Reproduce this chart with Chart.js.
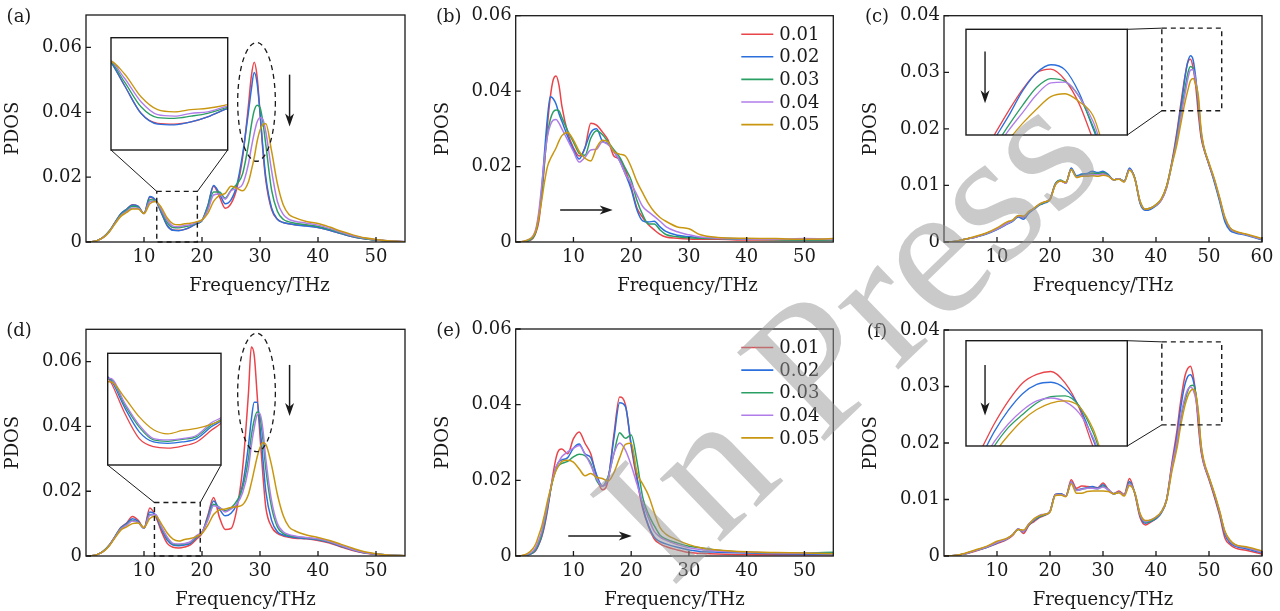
<!DOCTYPE html>
<html>
<head>
<meta charset="utf-8">
<script src="https://cdn.jsdelivr.net/npm/chart.js@4.4.1/dist/chart.umd.min.js"></script>
<style>
  html, body { margin: 0; padding: 0; background: #fff; }
  #fig { position: relative; width: 1280px; height: 611px; overflow: hidden; background: #fff; }
  #fig canvas { position: absolute; left: 0; top: 0; }
</style>
</head>
<body>
<div id="fig"></div>
<script>
// ---- data (PDOS in units of 1e-3) ----
const concentrations = ['0.01', '0.02', '0.03', '0.04', '0.05'];

const freqAD = [0,1,2,3,4,5,6,7,8,9,10,11,12,13,14,15,16,17,18,19,20,21,22,23,24,25,26,27,28,28.5,29,29.5,30,30.5,31,32,33,34,35,36,38,40,42,44,46,48,50,52,55];
const freqBE = [0,1,2,3,3.5,4,4.5,5,5.5,6,6.5,7,7.5,8,9,10,11,12,13,14,15,16,17,18,19,20,21,22,23,24,25,26,28,30,32,35,40,45,50,55];
const freqCF = [0,2,4,6,8,10,12,13,14,15,16,17,18,19,20,21,22,23,24,25,26,27,28,29,30,31,32,33,34,35,36,37,38,39,40,41,42,43,44,44.5,45,45.5,46,46.5,47,47.5,48,48.5,49,50,51,52,53,54,55,57,60];

// (a)
const a01 = [0,0.1,0.5,1.5,3.3,6.0,8.6,10.1,11.5,11.0, 8.8,13.8,12.8,9.0,5.1,3.7,3.6,3.9,4.6,5.6, 6.6,11.0,17.2,14.0,10.4,11.8,16.5,26,42, 51,55.4,51,40,28,19, 10,7,6.0,5.6,5.3, 5.0,4.5,3.6,2.6,1.6,1.0,0.6,0.3,0.1];
const a02 = [0,0.1,0.5,1.5,3.3,6.0,8.7,10.1,11.4,11.0, 8.8,14.0,12.8,9.0,5.1,3.6,3.5,3.9,4.6,5.6, 6.6,11.2,17.4,15.0,11.8,13.0,17.5,27,40, 47,52.3,49,40,29,20, 10.5,7,6.0,5.6,5.3, 4.9,4.5,3.6,2.6,1.6,1.0,0.6,0.3,0.1];
const a03 = [0,0.1,0.5,1.5,3.3,5.9,8.4,9.8,11.0,10.7, 8.8,13.0,12.7,9.5,6.0,4.5,4.4,4.7,5.1,5.8, 6.6,10.5,15.4,15.4,13.5,16.0,17.8,21,30, 36,40.5,42.2,41.5,37,30, 16,9.5,7.0,6.2,5.8, 5.3,4.8,3.9,2.8,1.8,1.1,0.6,0.3,0.1];
const a04 = [0,0.1,0.5,1.4,3.1,5.7,8.1,9.4,10.5,10.4, 8.8,12.4,12.6,10.0,6.7,4.9,4.7,5.1,5.3,6.0, 6.7,9.8,14.5,14.8,13.2,15.8,16.5,17.8,24, 29,33.5,37,38.3,37.8,34, 22,12.5,8.5,7.0,6.4, 5.8,5.2,4.2,3.0,1.9,1.2,0.7,0.4,0.1];
const a05 = [0,0.1,0.5,1.4,3.1,5.6,7.9,9.1,10.2,10.2, 8.8,11.8,12.5,10.6,7.4,5.6,5.3,5.6,5.8,6.2, 6.8,8.8,12.5,14.4,15.0,17.2,16.6,15.8,18.5, 22,26,31,34.5,36.2,36.5, 28,18,11.5,8.5,7.5, 6.3,5.7,4.6,3.3,2.2,1.3,0.8,0.4,0.1];

// (d)
const d01 = [0,0.1,0.5,1.5,3.3,6.0,8.8,10.2,12.2,11.0, 8.6,14.8,12.3,7.6,3.9,2.7,2.5,2.8,3.4,5.1, 7.0,12.5,18.1,12.0,8.2,8.5,14.5,27,50, 64.5,62,50,37,25,15, 9,7,6.2,5.8,5.5, 5.3,4.8,4.0,2.8,1.7,0.9,0.5,0.2,0.1];
const d02 = [0,0.1,0.5,1.5,3.3,6.0,8.7,10.0,11.5,10.7, 8.6,13.6,12.6,8.4,4.9,3.4,3.2,3.4,3.9,5.6, 7.2,12.0,17.0,14.5,12.4,13.2,16,22,34, 42,47.5,47.5,40,30,20, 11,7.5,6.5,6.0,5.7, 5.4,5.0,4.2,3.0,1.9,1.0,0.6,0.3,0.1];
const d03 = [0,0.1,0.5,1.5,3.3,5.9,8.5,9.7,11.0,10.4, 8.6,12.8,12.7,8.8,5.6,3.7,3.5,3.8,4.2,5.9, 7.3,11.5,16.0,15.0,14.0,14.8,17,21,30, 37,42,44.5,43,36,27, 15,9,7,6.3,6.0, 5.6,5.2,4.4,3.1,2.0,1.1,0.6,0.3,0.1];
const d04 = [0,0.1,0.5,1.4,3.2,5.8,8.3,9.5,10.8,10.3, 8.6,12.6,12.8,9.1,5.9,3.9,3.7,3.9,4.4,6.2, 7.5,11.0,15.5,15.0,13.6,14.5,16,19.5,27, 34,39.5,43.5,44,39,30, 17,10,7.5,6.6,6.2, 5.7,5.3,4.5,3.2,2.0,1.1,0.6,0.3,0.1];
const d05 = [0,0.1,0.5,1.4,3.1,5.6,8.0,9.0,10.0,10.2, 8.8,11.6,12.3,9.9,7.1,5.2,4.6,5.1,5.4,6.0, 7.0,9.5,12.8,14.2,14.5,15.0,15.2,15.8,19, 22.5,26.5,30.5,33.5,35,34.5, 28,19,12.5,9.0,7.8, 6.5,5.7,4.8,3.6,2.4,1.3,0.7,0.3,0.1];

// (b)
const b01 = [0,0,0.2,1.0, 2.5,5.5,12,21,31,38.5,43,44,41.5,36, 29,25,22.8,25,31.5,31,29.2,27,22.8,22,19,14.5,9,6.5,4.6,3.2,2.0,1.3, 1.0,0.8,0.7,0.7,0.5,0.5,0.5,0.5];
const b02 = [0,0,0.3,1.3, 3,7,14,24,33,38.5,38,36.5,34,32, 28,24.5,22,25,29,30,26.8,26,24,21.5,18,14,8.5,5.6,5.3,5.5,4.0,2.8, 1.8,1.4,1.1,1.0,0.8,0.7,0.6,0.6];
const b03 = [0,0,0.3,1.2, 2.8,6.5,13,21.5,28.5,32.5,34.5,35,34.8,33, 29.5,26.5,23.5,23,27.5,29.5,28.5,26.5,24.5,22.5,19.5,16.4,11,7.2,4.8,4.8,3.2,2.0, 1.4,1.1,1.0,0.9,0.7,0.6,0.5,0.6];
const b04 = [0,0.1,0.5,1.6, 3.5,8,15,22.5,28,31,32.3,32.5,31.5,30, 27,24,21.2,22.5,24.4,24.6,26.5,25.8,24,21.5,18,15.5,12.5,9.4,8.0,6.8,5.5,4.1, 2.7,1.9,1.3,1.0,0.8,0.7,0.9,0.7];
const b05 = [0,0.1,0.5,1.5, 3,6.5,11,16,20,22,23.5,25,26.8,28.2, 29,27,24,22.2,21.5,25,27,26.5,24,23.3,22.8,19.9,16,13,10.2,8.0,6.5,5.5, 4.0,3.5,1.9,1.2,1.0,0.9,0.7,0.9];

// (e)
const e01 = [0,0,0.2,0.8, 1.5,3,5,8,12,17,22,26,28,28.3, 27,31,32.8,29.8,27,21,17.5,20,32,42,40,29,20,12.5,7.8,4.5,3.2,2.5, 1.6,0.9,0.7,0.5,0.4,0.3,0.3,0.3];
const e02 = [0,0,0.2,0.9, 1.7,3.2,5.3,8.5,12.5,17,21,23.5,25,25.4, 26,28.5,29.6,27,26,21.5,18.5,20.5,31,40.5,39.5,29.5,21,13,8,5,3.8,3.2, 2.3,1.6,1.2,1.0,0.8,0.6,0.5,0.4];
const e03 = [0,0,0.3,1.0, 1.9,3.5,5.7,9,13,17.2,20.5,22.8,24,24.5, 25,26.2,26.9,26.5,24.5,20,18.5,21,27,32.6,31.1,32,25,15.5,11,8,5.5,4.5, 3.4,2.6,2.2,1.5,1.0,0.8,0.8,1.0];
const e04 = [0,0.1,0.4,1.3, 2.4,4.2,6.5,9.8,13.5,17.5,21,23.5,25,26.3, 27.5,28.5,29.2,27,24,20.5,18.5,20.5,27,29.9,28,24,19,14,10,6.5,5,4.2, 3.0,2.2,1.7,1.3,1.0,0.8,0.7,0.6];
const e05 = [0,0.1,0.6,2.0, 3.3,5.5,7.8,11,14.5,17.5,20.5,22.7,24,25, 25.3,24.8,23,21.2,21.8,20.8,20.5,19.8,22,26,29.5,29.8,22,19,16,11.5,7.5,5.8, 4.2,3.0,2.2,1.6,1.1,0.9,0.8,0.6];

// (c)
const c01 = [0,0.1,0.5,0.9,1.5,2.3, 3.3,3.8,4.6,4.3,5.3,5.9,6.6,7.0,7.6,10.2, 10.8,10.5,12.9,11.6,11.8,11.9,12.1,12.1,12.2,11.8, 11.0,11.2,10.7,12.9,11.3,7.0,5.7,5.9,6.5,7.5, 9.8,14.2, 19.8,23.2,26.5,29.5,31.8,32.3,30.8,27.5,22.5,18.5, 16.5,13.6,10.8,7.5,4.0,2.3,1.8,1.3,0.5];
const c02 = [0,0.1,0.5,0.9,1.4,2.2, 3.2,3.7,4.4,4.0,5.1,5.8,6.5,6.9,7.5,10.3, 10.9,10.4,13.1,11.7,12.0,12.1,12.5,12.3,12.5,11.9, 11.0,11.2,10.7,13.1,11.2,6.8,5.6,5.8,6.4,7.4, 9.6,13.8, 19.3,22.6,25.8,29.3,31.8,32.9,32.2,29,24,19, 16.7,13.7,10.6,7.2,3.6,2.0,1.6,1.2,0.4];
const c03 = [0,0.1,0.5,0.9,1.5,2.3, 3.3,3.8,4.6,4.4,5.3,5.9,6.6,7.0,7.6,10.2, 10.9,10.5,12.8,11.6,11.8,11.9,12.2,12.1,12.3,11.8, 11.0,11.2,10.8,12.8,11.3,7.1,5.8,6.0,6.6,7.6, 9.9,14.0, 18.6,21.5,24.5,27.3,29.8,31.0,30.6,28.5,24.3,19.3, 16.8,13.8,11.0,7.6,4.1,2.4,1.8,1.3,0.5];
const c04 = [0,0.1,0.5,0.9,1.5,2.3, 3.3,3.8,4.6,4.4,5.3,5.9,6.7,7.1,7.6,10.1, 10.8,10.4,12.8,11.5,11.7,11.8,11.9,11.9,12.0,11.7, 11.0,11.2,10.7,12.8,11.2,7.1,5.8,6.0,6.5,7.4, 9.6,13.8, 18.2,21.0,23.8,26.3,28.8,30.4,30.5,28.5,25,19.5, 16.8,13.8,11.0,7.7,4.2,2.4,1.8,1.3,0.5];
const c05 = [0,0.1,0.5,1.0,1.6,2.5, 3.6,3.9,4.7,4.6,5.4,6.0,6.7,7.1,7.5,10.1, 10.8,10.5,12.8,11.4,11.6,11.6,11.7,11.6,11.8,11.6, 11.0,11.1,10.6,12.7,11.2,7.2,5.8,6.0,6.6,7.6, 9.8,13.6, 17.5,20,22.5,24.8,26.8,28.5,28.9,27.8,25.8,20, 17,14.0,11.2,7.9,4.4,2.5,1.9,1.4,0.6];

// (f)
const f01 = [0,0.1,0.4,0.9,1.5,2.2, 3.0,3.7,4.8,4.0,5.4,6.1,6.8,7.2,7.9,10.9, 11.0,10.6,13.5,12.0,12.4,12.3,12.2,12.1,12.9,11.8, 11.0,11.5,10.9,13.7,11.0,6.8,5.5,6.0,6.6,7.7, 10.0,16.5, 22.5,26.3,29.5,32,33.2,33.6,32,28.5,23,18.5, 16.3,13.5,10.5,7.2,3.2,2.0,1.4,1.0,0.35];
const f02 = [0,0.1,0.4,1.0,1.5,2.3, 3.1,3.8,4.8,4.3,5.5,6.3,6.9,7.3,7.9,10.9, 11.0,10.6,13.1,11.7,11.9,12.1,12.3,12.0,12.6,11.7, 11.0,11.3,10.8,13.2,11.1,7.1,5.8,6.1,6.6,7.6, 9.9,16.0, 21.5,25.2,28.2,30.5,31.8,32.1,31.2,28.7,24,19, 16.5,13.7,10.8,7.5,3.8,2.3,1.7,1.3,0.55];
const f03 = [0,0.1,0.4,1.0,1.6,2.4, 3.1,3.8,4.7,4.4,5.6,6.4,7.0,7.3,7.9,10.8, 10.9,10.6,13.0,11.6,11.8,12.0,12.0,11.9,12.4,11.7, 11.0,11.3,10.8,12.9,11.2,7.3,6.0,6.2,6.8,7.8, 10.0,15.5, 20,23.2,25.8,27.6,29.2,30.1,30.2,28.8,25,19.5, 16.7,13.9,11.0,7.8,4.2,2.6,1.9,1.5,0.7];
const f04 = [0,0.1,0.4,1.0,1.6,2.4, 3.1,3.8,4.8,4.4,5.7,6.5,7.2,7.4,7.9,10.8, 10.9,10.6,13.0,11.6,11.8,12.0,12.0,11.9,12.2,11.7, 11.0,11.3,10.8,12.8,11.2,7.3,6.1,6.4,6.9,7.8, 10.0,15.8, 20.5,23.8,26.3,28.2,29.5,29.9,29.4,27.8,24.3,19.2, 16.5,13.8,11.0,7.8,4.2,2.6,1.9,1.5,0.7];
const f05 = [0,0.1,0.5,1.1,1.7,2.6, 3.2,3.8,4.7,4.6,5.6,6.6,7.1,7.4,7.8,10.7, 10.8,10.5,12.8,11.1,11.1,11.4,11.5,11.5,11.5,11.4, 11.0,11.2,10.6,12.5,11.2,7.5,6.3,6.4,6.9,7.8, 9.8,15, 19.3,22.2,24.7,26.8,28.3,29.2,29.5,28.7,25.5,19.8, 17,14.0,11.2,8.0,4.4,2.8,2.0,1.65,0.9];

const ticksX55 = [10, 20, 30, 40, 50];
const ticksX60 = [10, 20, 30, 40, 50, 60];
const ticksY06 = [0, 0.02, 0.04, 0.06];
const ticksY04 = [0, 0.01, 0.02, 0.03, 0.04];

// ---- look ----
const W = 1280, H = 611;
const FONT = 'DejaVu Serif';
const INK = '#1a1a1a';
const COLORS = ['#e9444a', '#2b6fdc', '#2a9f64', '#b07de8', '#c9960f'];

const panels = [
  { tag: '(a)', area: { l: 86, t: 15, r: 405, b: 242 }, titleShift: 14, freq: freqAD, series: [a01, a02, a03, a04, a05],
    xMax: 55, yMax: 0.07, xTicks: ticksX55, yTicks: ticksY06,
    inset: { box: { x0: 111, y0: 37.7, x1: 227.7, y1: 150 }, range: [12.2, 19.2, 0, 0.0156], rect: [12.2, 19.2, 0, 0.0156], link: 'below' },
    ellipse: [29.4, 0.0432, 3.25, 0.0183], arrow: [35.1, 0.0516, 35.1, 0.0356] },
  { tag: '(b)', area: { l: 515.7, t: 15.7, r: 833.3, b: 242 }, titleShift: 13, freq: freqBE, series: [b01, b02, b03, b04, b05],
    xMax: 55, yMax: 0.06, xTicks: ticksX55, yTicks: ticksY06, legend: true,
    arrow: [7.7, 0.0085, 16.8, 0.0085] },
  { tag: '(c)', area: { l: 944, t: 15.7, r: 1262, b: 242 }, titleShift: 0, freq: freqCF, series: [c01, c02, c03, c04, c05],
    xMax: 60, yMax: 0.04, xTicks: ticksX60, yTicks: ticksY04,
    inset: { box: { x0: 966, y0: 29.3, x1: 1127.3, y1: 135 }, range: [43.5, 49.2, 0.0232, 0.0378], rect: [41.1, 52.4, 0.0232, 0.0378], link: 'side', arrow: [0.118, 0.21, 0.118, 0.70] } },
  { tag: '(d)', area: { l: 86, t: 329.3, r: 405, b: 556 }, titleShift: 0, freq: freqAD, series: [d01, d02, d03, d04, d05],
    xMax: 55, yMax: 0.07, xTicks: ticksX55, yTicks: ticksY06,
    inset: { box: { x0: 107.7, y0: 353.3, x1: 221, y1: 465 }, range: [11.8, 19.7, 0, 0.0165], rect: [11.8, 19.7, 0, 0.0165], link: 'below' },
    ellipse: [29.4, 0.0505, 3.25, 0.0183], arrow: [35.1, 0.059, 35.1, 0.0432] },
  { tag: '(e)', area: { l: 515.7, t: 329, r: 833.3, b: 556 }, titleShift: 0, freq: freqBE, series: [e01, e02, e03, e04, e05],
    xMax: 55, yMax: 0.06, xTicks: ticksX55, yTicks: ticksY06, legend: true,
    arrow: [9.1, 0.0053, 20.1, 0.0053] },
  { tag: '(f)', area: { l: 944, t: 330, r: 1262, b: 556 }, titleShift: 0, freq: freqCF, series: [f01, f02, f03, f04, f05],
    xMax: 60, yMax: 0.04, xTicks: ticksX60, yTicks: ticksY04,
    inset: { box: { x0: 966, y0: 340.7, x1: 1127.3, y1: 446 }, range: [43.5, 49.2, 0.0232, 0.0379], rect: [41.1, 52.4, 0.0232, 0.0379], link: 'side', arrow: [0.118, 0.23, 0.118, 0.71] } }
];

const fig = document.getElementById('fig');
function addCanvas() {
  const cv = document.createElement('canvas');
  cv.width = W; cv.height = H;
  fig.appendChild(cv);
  return cv;
}

function buildDatasets(p, width) {
  return p.series.map((s, i) => ({
    label: concentrations[i],
    data: p.freq.map((f, k) => ({ x: f, y: s[k] / 1000 })),
    borderColor: COLORS[i],
    borderWidth: width,
    pointRadius: 0,
    fill: false,
    cubicInterpolationMode: 'monotone',
    order: 5 - i
  }));
}

function drawArrow(ctx, x1, y1, x2, y2) {
  const ang = Math.atan2(y2 - y1, x2 - x1), L = 13, w = 4.5;
  ctx.beginPath();
  ctx.moveTo(x1, y1);
  ctx.lineTo(x2 - Math.cos(ang) * L * 0.7, y2 - Math.sin(ang) * L * 0.7);
  ctx.stroke();
  ctx.save();
  ctx.translate(x2, y2);
  ctx.rotate(ang);
  ctx.beginPath();
  ctx.moveTo(0, 0);
  ctx.lineTo(-L, -w);
  ctx.lineTo(-L * 0.72, 0);
  ctx.lineTo(-L, w);
  ctx.closePath();
  ctx.fill();
  ctx.restore();
}

// frame, inward ticks, letters, x title, legend, zoom boxes, ellipse and arrows
function decor(p) {
  return {
    id: 'decor',
    afterDraw(chart) {
      const { ctx, chartArea: a } = chart;
      const x = chart.scales.x, y = chart.scales.y;
      ctx.save();
      ctx.strokeStyle = INK;
      ctx.fillStyle = INK;
      ctx.lineWidth = 1.3;
      ctx.strokeRect(a.left, a.top, a.right - a.left, a.bottom - a.top);
      ctx.beginPath();
      x.ticks.forEach(t => {
        const px = x.getPixelForValue(t.value);
        ctx.moveTo(px, a.bottom); ctx.lineTo(px, a.bottom - 5);
      });
      y.ticks.forEach(t => {
        const py = y.getPixelForValue(t.value);
        ctx.moveTo(a.left, py); ctx.lineTo(a.left + 5, py);
      });
      ctx.stroke();

      ctx.font = '18px "' + FONT + '"';
      ctx.textAlign = 'center';
      ctx.textBaseline = 'middle';
      ctx.fillText(p.tag, a.left - 67, a.top + 2);
      ctx.fillText('Frequency/THz', (a.left + a.right) / 2 + p.titleShift, a.bottom + 44);

      if (p.legend) {
        ctx.textAlign = 'left';
        chart.data.datasets.forEach((ds, i) => {
          const ly = a.top + 18.5 + i * 22.6;
          ctx.strokeStyle = ds.borderColor;
          ctx.lineWidth = 1.6;
          ctx.beginPath();
          ctx.moveTo(a.right - 92, ly); ctx.lineTo(a.right - 60, ly);
          ctx.stroke();
          ctx.fillStyle = INK;
          ctx.fillText(ds.label, a.right - 54, ly + 1);
        });
        ctx.strokeStyle = INK;
      }

      if (p.inset) {
        const r = p.inset.rect, b = p.inset.box;
        const rx0 = x.getPixelForValue(r[0]), rx1 = x.getPixelForValue(r[1]);
        const ry0 = y.getPixelForValue(r[2]), ry1 = y.getPixelForValue(r[3]);
        ctx.lineWidth = 1.4;
        ctx.setLineDash([5, 4]);
        ctx.strokeRect(rx0, ry1, rx1 - rx0, ry0 - ry1);
        ctx.setLineDash([]);
        ctx.lineWidth = 1;
        ctx.beginPath();
        if (p.inset.link === 'below') {
          ctx.moveTo(b.x0, b.y1); ctx.lineTo(rx0, ry1);
          ctx.moveTo(b.x1, b.y1); ctx.lineTo(rx1, ry1);
        } else {
          ctx.moveTo(b.x1, b.y0); ctx.lineTo(rx0, ry1);
          ctx.moveTo(b.x1, b.y1); ctx.lineTo(rx0, ry0);
        }
        ctx.stroke();
      }

      if (p.ellipse) {
        const [cx, cy, ex, ey] = p.ellipse;
        const px = x.getPixelForValue(cx), py = y.getPixelForValue(cy);
        ctx.lineWidth = 1.3;
        ctx.setLineDash([5, 4]);
        ctx.beginPath();
        ctx.ellipse(px, py, Math.abs(x.getPixelForValue(cx + ex) - px), Math.abs(y.getPixelForValue(cy + ey) - py), 0, 0, Math.PI * 2);
        ctx.stroke();
        ctx.setLineDash([]);
      }

      if (p.arrow) {
        const [x1, y1, x2, y2] = p.arrow;
        ctx.lineWidth = 1.5;
        drawArrow(ctx, x.getPixelForValue(x1), y.getPixelForValue(y1), x.getPixelForValue(x2), y.getPixelForValue(y2));
      }
      ctx.restore();
    }
  };
}

function makeMain(p) {
  const axisFont = { family: FONT, size: 18 };
  new Chart(addCanvas(), {
    type: 'line',
    data: { datasets: buildDatasets(p, 1.5) },
    options: {
      responsive: false,
      animation: false,
      devicePixelRatio: 1,
      layout: { autoPadding: false, padding: { left: p.area.l - 86, top: p.area.t, right: W - p.area.r, bottom: H - p.area.b - 55 } },
      plugins: { legend: { display: false }, tooltip: { enabled: false } },
      scales: {
        x: {
          type: 'linear', min: 0, max: p.xMax,
          afterBuildTicks: s => { s.ticks = p.xTicks.map(v => ({ value: v })); },
          afterFit: s => { s.height = 55; },
          grid: { display: false, drawTicks: false },
          border: { display: false },
          ticks: { padding: 5, color: INK, font: axisFont, maxRotation: 0, autoSkip: false },
          title: { display: false }
        },
        y: {
          type: 'linear', min: 0, max: p.yMax,
          afterBuildTicks: s => { s.ticks = p.yTicks.map(v => ({ value: v })); },
          afterFit: s => { s.width = 86; },
          grid: { display: false, drawTicks: false },
          border: { display: false },
          ticks: { padding: 4, color: INK, font: axisFont, callback: v => (v === 0 ? '0' : v.toFixed(2)) },
          title: { display: true, text: 'PDOS', color: INK, font: axisFont, padding: { top: 3, bottom: 0 } }
        }
      }
    },
    plugins: [decor(p)]
  });
}

function makeInset(p) {
  const ins = p.inset, b = ins.box;
  new Chart(addCanvas(), {
    type: 'line',
    data: { datasets: buildDatasets(p, 1.3) },
    options: {
      responsive: false,
      animation: false,
      devicePixelRatio: 1,
      layout: { autoPadding: false, padding: { left: b.x0, top: b.y0, right: W - b.x1, bottom: H - b.y1 } },
      plugins: { legend: { display: false }, tooltip: { enabled: false } },
      scales: {
        x: { type: 'linear', display: false, min: ins.range[0], max: ins.range[1] },
        y: { type: 'linear', display: false, min: ins.range[2], max: ins.range[3] }
      }
    },
    plugins: [{
      id: 'insetFrame',
      beforeDatasetsDraw(chart) {
        const { ctx, chartArea: a } = chart;
        ctx.save();
        ctx.fillStyle = '#fff';
        ctx.fillRect(a.left, a.top, a.right - a.left, a.bottom - a.top);
        ctx.restore();
      },
      afterDraw(chart) {
        const { ctx, chartArea: a } = chart;
        ctx.save();
        ctx.strokeStyle = INK;
        ctx.fillStyle = INK;
        ctx.lineWidth = 1.4;
        ctx.strokeRect(a.left, a.top, a.right - a.left, a.bottom - a.top);
        if (ins.arrow) {
          const [fx1, fy1, fx2, fy2] = ins.arrow;
          const w = a.right - a.left, h = a.bottom - a.top;
          ctx.lineWidth = 1.4;
          drawArrow(ctx, a.left + fx1 * w, a.top + fy1 * h, a.left + fx2 * w, a.top + fy2 * h);
        }
        ctx.restore();
      }
    }]
  });
}

panels.forEach(p => {
  makeMain(p);
  if (p.inset) makeInset(p);
});

// "In Press" watermark over the figure
const wm = addCanvas().getContext('2d');
wm.save();
wm.translate(855, 342);
wm.rotate(-44 * Math.PI / 180);
wm.font = '190px "Liberation Serif"';
wm.textAlign = 'center';
wm.textBaseline = 'middle';
wm.fillStyle = 'rgba(150,150,150,0.5)';
wm.fillText('In Press', 0, 0);
wm.restore();
</script>
</body>
</html>
